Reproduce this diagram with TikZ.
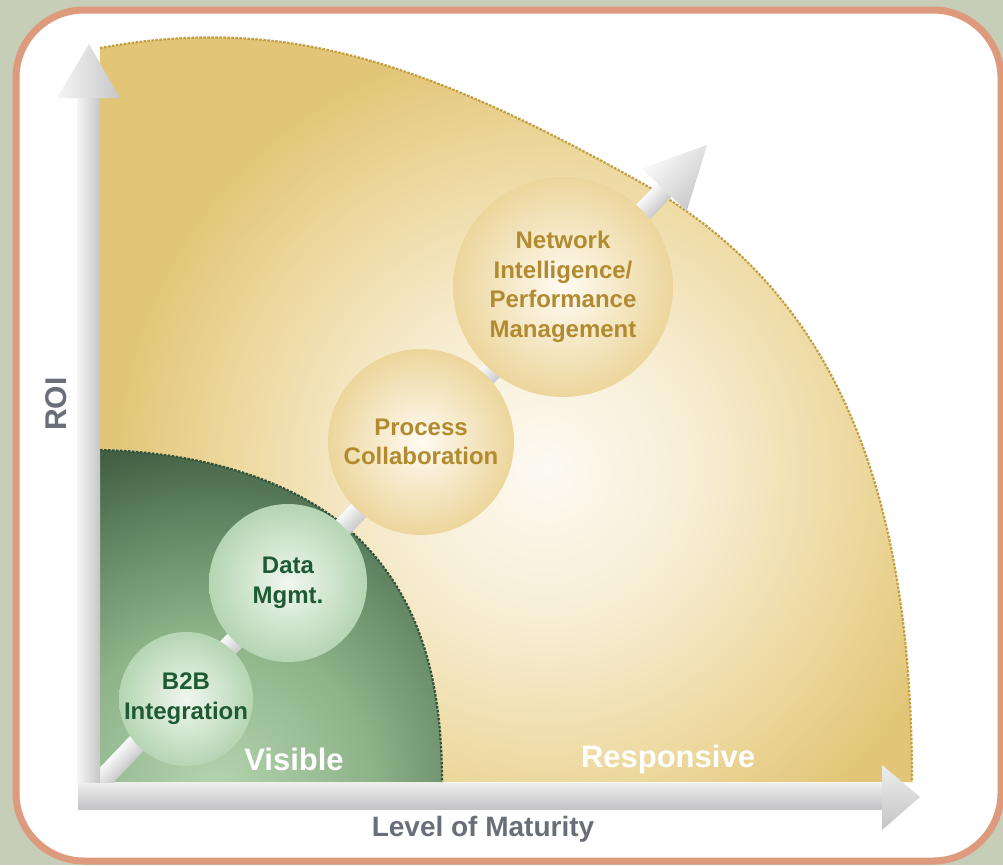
\documentclass[tikz,border=0pt]{standalone}
\usepackage{fontspec}
\setmainfont{Liberation Sans}
\usetikzlibrary{calc}
\definecolor{bgc}{HTML}{C7CEB8}
\definecolor{framec}{HTML}{DD9A7C}
\definecolor{goldA}{HTML}{FDFAF3}
\definecolor{goldB}{HTML}{F7EDD3}
\definecolor{goldC}{HTML}{EDD9A0}
\definecolor{goldD}{HTML}{E2C577}
\definecolor{goldline}{HTML}{C29E3C}
\definecolor{grA}{HTML}{B4D4AE}
\definecolor{grB}{HTML}{8DB389}
\definecolor{grC}{HTML}{5A7D5B}
\definecolor{grD}{HTML}{3E5B40}
\definecolor{grline}{HTML}{30523A}
\definecolor{gcIn}{HTML}{F0F7EF}
\definecolor{gcOut}{HTML}{B5D5B3}
\definecolor{ycIn}{HTML}{FFFBF3}
\definecolor{ycOut}{HTML}{ECD69C}
\definecolor{gtext}{HTML}{1E5B35}
\definecolor{ytext}{HTML}{B28A2F}
\definecolor{axtext}{HTML}{6A6E78}
\definecolor{axL}{HTML}{F6F6F6}
\definecolor{axR}{HTML}{C6C6C8}
\definecolor{axT}{HTML}{EEEEEE}
\definecolor{axB}{HTML}{C4C4C6}
\definecolor{dgL}{HTML}{FAFAFA}
\definecolor{dgR}{HTML}{C9C9CB}
% circle of radius 900: 25bp = 900 units; gold reached at ~430 units
\pgfdeclareradialshading{goldshade}{\pgfpoint{0bp}{0bp}}{color(0bp)=(goldA); color(4.3bp)=(goldB); color(8.6bp)=(goldC); color(12bp)=(goldD); color(50bp)=(goldD)}
% circle of radius 500: dark reached at ~360 units
\pgfdeclareradialshading{greenshade}{\pgfpoint{0bp}{0bp}}{color(0bp)=(grA); color(7.9bp)=(grB); color(14.4bp)=(grC); color(18bp)=(grD); color(50bp)=(grD)}
\tikzset{
  greencirc/.style={circle, inner sep=0pt, inner color=gcIn, outer color=gcOut,
    text=gtext, align=center, font=\fontsize{24}{30}\selectfont\bfseries},
  goldcirc/.style={circle, inner sep=0pt, inner color=ycIn, outer color=ycOut,
    text=ytext, align=center, font=\fontsize{24}{29.5}\selectfont\bfseries},
  zonelabel/.style={text=white, font=\fontsize{31}{36}\selectfont\bfseries},
  axlabel/.style={text=axtext, font=\fontsize{28}{32}\selectfont\bfseries},
  goldedge/.style={draw=goldline, line width=2.2pt, dash pattern=on 2.5pt off 1.5pt},
  greenedge/.style={draw=grline, line width=2.2pt, dash pattern=on 2.5pt off 1.5pt}
}
\begin{document}
\begin{tikzpicture}[x=1pt,y=-1pt]
\useasboundingbox (0,0) rectangle (1003,865);
\fill[bgc] (0,0) rectangle (1003,865);
\draw[line width=7pt, draw=framec, fill=white, rounded corners=68pt] (16,10) rectangle (1001,861);

% gold zone
\begin{scope}
\clip (100,782) -- (100,48) .. controls (280,15) and (420,59) .. (640,182) .. controls (820,283) and (912,462) .. (912,782) -- cycle;
\shade[shading=goldshade] (545,470) circle (900);
\end{scope}
\draw[goldedge] (100,48) .. controls (280,15) and (420,59) .. (640,182) .. controls (820,283) and (912,462) .. (912,782);

% green zone
\begin{scope}
\clip (100,782) -- (100,450) .. controls (200,452) and (300,480) .. (360,540) .. controls (420,600) and (442,680) .. (442,782) -- cycle;
\shade[shading=greenshade] (215,790) circle (500);
\end{scope}
\draw[greenedge] (100,450) .. controls (200,452) and (300,480) .. (360,540) .. controls (420,600) and (442,680) .. (442,782);

% diagonal arrow
\begin{scope}[transform canvas={shift={(100,782)},rotate=46.38}]
\shade[top color=dgL, bottom color=dgR] (0,-10) rectangle (818,10);
\shade[top color=dgL, bottom color=dgR] (818,-31) -- (880,0) -- (818,31) -- cycle;
\end{scope}

% stage circles
\node[greencirc, minimum size=128pt] (b2b) at (186,699) {B2B\\Integration};
\node[greencirc, minimum size=158pt] (data) at (288,583) {Data\\Mgmt.};
\node[goldcirc, minimum size=186pt] (proc) at (421,442) {Process\\Collaboration};
\node[goldcirc, minimum size=220pt] (net) at (563,287) {Network\\Intelligence/\\Performance\\Management};

% axes
\shade[left color=axL, right color=axR] (77,98) rectangle (100,783);
\shade[left color=axL, right color=axR] (57,98) -- (89,44) -- (120,98) -- cycle;
\shade[top color=axT, bottom color=axB] (78,783) rectangle (882,809);
\shade[top color=axT, bottom color=axB] (882,765) -- (920,797) -- (882,830) -- cycle;

% labels
\node[zonelabel] (vis) at (294,759) {Visible};
\node[zonelabel] (resp) at (668,759) {Responsive};
\node[axlabel] (lom) at (483,829) {Level of Maturity};
\node[axlabel, rotate=90, font=\fontsize{30}{34}\selectfont\bfseries] (roi) at (56,404) {ROI};
\end{tikzpicture}
\end{document}
